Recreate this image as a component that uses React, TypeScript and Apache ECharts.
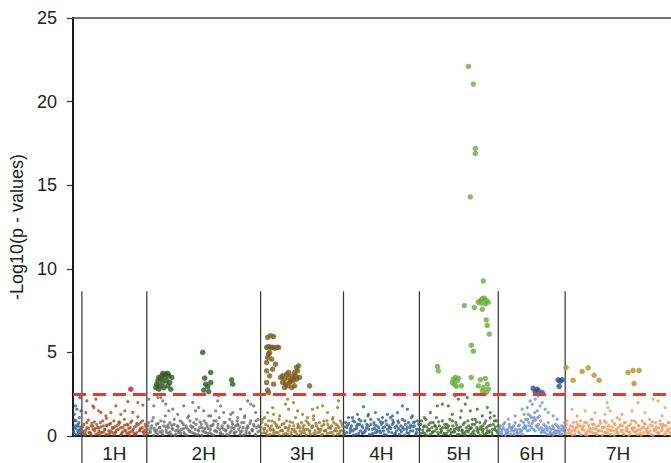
import React, { useEffect, useRef } from "react";
import * as echarts from "echarts";

const chromNames = ["1H", "2H", "3H", "4H", "5H", "6H", "7H"];
const chromBounds = [9, 74, 188, 271, 347, 426, 493, 599];
const yTicks = [0, 5, 10, 15, 20, 25];
const threshold = 2.5;
const separatorTop = 8.65;

const unPts = [[1,0.2],[2,0.6],[3,0.9],[1.5,1.3],[4,1.6],[2.5,1.8],[5,0.3],[6,0.8],[7,2.3],[3.5,0.1],[8,0.4],[6.5,1.1],[4.5,0.6],[7.5,0.2],[2,0.95],[8,1.5],[5.5,0.15],[1,0.5],[0.5,0.3],[3,0.45],[5,0.7],[7,0.55],[8.5,0.1],[6,0.35]];

const h1Pts = [[9.5,0.3],[11,0.7],[12.5,0.1],[14,0.5],[15.5,0.95],[17,0.2],[18.5,0.6],[20,0.4],[21.5,0.85],[23,0.1],[24.5,0.5],[26,0.3],[27.5,0.8],[29,0.2],[30.5,0.6],[32,0.4],[33.5,1.05],[35,0.1],[36.5,0.7],[38,0.3],[39.5,0.5],[41,0.9],[42.5,0.2],[44,0.6],[45.5,0.4],[47,0.8],[48.5,0.1],[50,0.5],[51.5,1.0],[53,0.3],[54.5,0.7],[56,0.2],[57.5,0.5],[59,0.9],[60.5,0.4],[62,0.1],[63.5,0.6],[65,1.15],[66.5,0.3],[68,0.8],[69.5,0.5],[71,0.2],[72.5,0.7],
[10,0.15],[13,0.35],[16,0.2],[19,0.75],[22,0.45],[25,0.15],[28,0.55],[31,0.25],[34,0.65],[37,0.15],[40,0.45],[43,0.25],[46,0.85],[49,0.15],[52,0.35],[55,0.65],[58,0.25],[61,0.15],[64,0.75],[67,0.35],[70,0.25],[73,0.55],[11.5,0.05],[26.5,0.05],[41.5,0.05],[56.5,0.05],[71.5,0.05],[18,0.05],[33,0.08],[48,0.06],[63,0.08],
[9.8,0.55],[11.8,0.25],[13.8,0.8],[15.8,0.45],[17.8,0.15],[19.8,0.6],[21.8,0.3],[23.8,0.7],[25.8,0.5],[27.8,0.2],[29.8,0.9],[31.8,0.4],[33.8,0.6],[35.8,0.3],[37.8,0.75],[39.8,0.2],[41.8,0.55],[43.8,0.35],[45.8,0.7],[47.8,0.5],[49.8,0.25],[51.8,0.65],[53.8,0.15],[55.8,0.45],[57.8,0.8],[59.8,0.3],[61.8,0.55],[63.8,0.2],[65.8,0.7],[67.8,0.45],[69.8,0.9],[71.8,0.35],[73.5,0.2],
[14,2.1],[23,2.2],[20,1.8],[21,1.7],[28,1.4],[43,1.8],[55,2.05],[65,2.0],[70,1.85],[60,1.4],[13,1.4],[38,1.4],[48,1.3],[33,1.2],[26,1.5],[52,1.5]];

const h2Pts = [[74.5,0.4],[76,0.8],[77.5,0.2],[79,0.6],[80.5,1.1],[82,0.3],[83.5,0.7],[85,0.1],[86.5,0.5],[88,0.9],[89.5,0.3],[91,0.6],[92.5,1.2],[94,0.2],[95.5,0.5],[97,0.8],[98.5,0.1],[100,0.4],[101.5,1.0],[103,0.3],[104.5,0.6],[106,0.2],[107.5,0.9],[109,0.4],[110.5,0.7],[112,0.1],[113.5,0.5],[115,1.1],[116.5,0.3],[118,0.6],[119.5,0.2],[121,0.8],[122.5,0.4],[124,1.0],[125.5,0.1],[127,0.5],[128.5,0.7],[130,0.3],[131.5,0.9],[133,0.2],[134.5,0.6],[136,1.2],[137.5,0.4],[139,0.1],[140.5,0.7],[142,0.3],[143.5,0.9],[145,0.5],[146.5,1.1],[148,0.2],[149.5,0.6],[151,0.4],[152.5,0.8],[154,0.1],[155.5,0.5],[157,1.0],[158.5,0.3],[160,0.7],[161.5,0.2],[163,0.6],[164.5,0.9],[166,0.4],[167.5,0.1],[169,0.8],[170.5,0.5],[172,1.1],[173.5,0.3],[175,0.6],[176.5,0.2],[178,0.9],[179.5,0.4],[181,0.7],[182.5,0.1],[184,0.5],[185.5,1.0],[187,0.3],
[75,0.15],[78,0.45],[81,0.05],[84,0.35],[87,0.25],[90,0.05],[93,0.55],[96,0.15],[99,0.65],[102,0.05],[105,0.35],[108,0.15],[111,0.45],[114,0.05],[117,0.25],[120,0.55],[123,0.1],[126,0.3],[129,0.05],[132,0.45],[135,0.15],[138,0.6],[141,0.05],[144,0.25],[147,0.4],[150,0.1],[153,0.3],[156,0.05],[159,0.5],[162,0.15],[165,0.65],[168,0.25],[171,0.05],[174,0.45],[177,0.15],[180,0.3],[183,0.05],[186,0.6],
[75.3,0.6],[77.3,0.3],[79.3,0.9],[81.3,0.45],[83.3,0.2],[85.3,0.75],[87.3,0.5],[89.3,0.15],[91.3,0.85],[93.3,0.35],[95.3,0.65],[97.3,0.25],[99.3,0.45],[101.3,0.7],[103.3,0.1],[105.3,0.55],[107.3,0.3],[109.3,0.8],[111.3,0.2],[113.3,0.6],[115.3,0.4],[117.3,0.9],[119.3,0.5],[121.3,0.15],[123.3,0.7],[125.3,0.35],[127.3,0.85],[129.3,0.5],[131.3,0.25],[133.3,0.75],[135.3,0.45],[137.3,0.2],[139.3,0.6],[141.3,0.9],[143.3,0.3],[145.3,0.7],[147.3,0.15],[149.3,0.5],[151.3,0.8],[153.3,0.35],[155.3,0.6],[157.3,0.2],[159.3,0.85],[161.3,0.45],[163.3,0.25],[165.3,0.7],[167.3,0.55],[169.3,0.3],[171.3,0.8],[173.3,0.15],[175.3,0.5],[177.3,0.75],[179.3,0.35],[181.3,0.6],[183.3,0.9],[185.3,0.25],[187.3,0.55],
[76,2.2],[88,2.3],[90,2.1],[81,1.8],[100,1.6],[111,1.8],[116,1.2],[126,1.7],[123,1.5],[146,2.4],[145,2.1],[148,1.8],[143,1.5],[151,1.4],[160,1.4],[168,1.6],[175,2.1],[181,1.8],[183,1.4],[165,1.1],[85,2.3],[96,1.5],[120,2.0],[131,1.5],[158,1.3],[178,1.9],[105,1.3],[138,1.2],[93,1.9],[172,1.2]];

const h3Pts = [[188.5,0.5],[190,1.0],[191.5,0.2],[193,0.7],[194.5,0.3],[196,0.9],[197.5,0.1],[199,0.6],[200.5,0.4],[202,0.8],[203.5,0.2],[205,0.5],[206.5,1.0],[208,0.3],[209.5,0.7],[211,0.1],[212.5,0.5],[214,0.9],[215.5,0.3],[217,0.6],[218.5,0.2],[220,0.8],[221.5,0.4],[223,1.1],[224.5,0.1],[226,0.6],[227.5,0.3],[229,0.8],[230.5,0.5],[232,0.2],[233.5,0.9],[235,0.4],[236.5,0.7],[238,0.1],[239.5,0.5],[241,1.0],[242.5,0.3],[244,0.6],[245.5,0.2],[247,0.8],[248.5,0.4],[250,0.1],[251.5,0.7],[253,0.3],[254.5,0.9],[256,0.5],[257.5,0.2],[259,0.6],[260.5,1.1],[262,0.3],[263.5,0.7],[265,0.1],[266.5,0.5],[268,0.9],[269.5,0.3],
[189,0.15],[192,0.45],[195,0.05],[198,0.35],[201,0.15],[204,0.6],[207,0.05],[210,0.3],[213,0.15],[216,0.45],[219,0.05],[222,0.25],[225,0.5],[228,0.1],[231,0.35],[234,0.05],[237,0.25],[240,0.6],[243,0.1],[246,0.4],[249,0.05],[252,0.3],[255,0.15],[258,0.45],[261,0.05],[264,0.3],[267,0.15],[270,0.6],
[189.3,0.8],[191.3,0.4],[193.3,0.15],[195.3,0.6],[197.3,0.45],[199.3,0.9],[201.3,0.3],[203.3,0.7],[205.3,0.2],[207.3,0.55],[209.3,0.35],[211.3,0.75],[213.3,0.5],[215.3,0.1],[217.3,0.85],[219.3,0.4],[221.3,0.6],[223.3,0.25],[225.3,0.7],[227.3,0.5],[229.3,0.2],[231.3,0.65],[233.3,0.4],[235.3,0.8],[237.3,0.3],[239.3,0.55],[241.3,0.15],[243.3,0.75],[245.3,0.45],[247.3,0.25],[249.3,0.6],[251.3,0.9],[253.3,0.35],[255.3,0.7],[257.3,0.5],[259.3,0.2],[261.3,0.8],[263.3,0.45],[265.3,0.6],[267.3,0.3],[269.3,0.75],[270.7,0.1],
[215,2.2],[213,1.9],[216,1.6],[221,2.0],[225,1.5],[200,1.7],[201,1.3],[195,1.4],[240,1.6],[245,1.7],[250,1.8],[241,1.2],[265,1.7],[266,2.1],[192,1.1],[207,1.2],[230,1.3],[255,1.4],[260,1.0],[235,1.1]];

const h4Pts = [[271.5,0.3],[273,0.8],[274.5,0.5],[276,1.1],[277.5,0.2],[279,0.6],[280.5,0.9],[282,0.4],[283.5,0.1],[285,0.7],[286.5,1.0],[288,0.3],[289.5,0.6],[291,0.2],[292.5,0.9],[294,0.5],[295.5,1.2],[297,0.1],[298.5,0.7],[300,0.4],[301.5,0.8],[303,0.2],[304.5,0.6],[306,1.0],[307.5,0.3],[309,0.7],[310.5,0.5],[312,0.1],[313.5,0.9],[315,0.4],[316.5,0.6],[318,1.1],[319.5,0.2],[321,0.8],[322.5,0.5],[324,0.3],[325.5,0.9],[327,0.1],[328.5,0.6],[330,1.0],[331.5,0.4],[333,0.7],[334.5,0.2],[336,0.8],[337.5,0.5],[339,1.1],[340.5,0.3],[342,0.6],[343.5,0.1],[345,0.9],[346.5,0.4],
[272,0.15],[275,0.65],[278,0.35],[281,0.05],[284,0.45],[287,0.7],[290,0.15],[293,0.35],[296,0.6],[299,0.05],[302,0.45],[305,0.25],[308,0.85],[311,0.3],[314,0.05],[317,0.5],[320,0.7],[323,0.15],[326,0.45],[329,0.25],[332,0.05],[335,0.55],[338,0.3],[341,0.8],[344,0.2],
[272.3,0.55],[274.3,0.2],[276.3,0.75],[278.3,0.45],[280.3,0.3],[282.3,0.85],[284.3,0.6],[286.3,0.15],[288.3,0.9],[290.3,0.5],[292.3,0.25],[294.3,0.7],[296.3,0.4],[298.3,1.0],[300.3,0.15],[302.3,0.65],[304.3,0.35],[306.3,0.5],[308.3,0.2],[310.3,0.8],[312.3,0.55],[314.3,0.7],[316.3,0.25],[318.3,0.45],[320.3,0.95],[322.3,0.1],[324.3,0.6],[326.3,0.8],[328.3,0.35],[330.3,0.5],[332.3,0.9],[334.3,0.4],[336.3,0.15],[338.3,0.65],[340.3,0.55],[342.3,0.85],[344.3,0.4],[346.3,0.7],
[291,1.75],[330,1.8],[335,1.6],[303,1.4],[315,1.3],[296,1.3],[320,1.2],[340,1.2],[280,1.1],[310,1.1],[325,1.4],[285,1.3]];

const h5Pts = [[347.5,0.4],[349,0.9],[350.5,0.2],[352,0.6],[353.5,1.0],[355,0.3],[356.5,0.7],[358,0.1],[359.5,0.5],[361,0.8],[362.5,0.3],[364,1.1],[365.5,0.2],[367,0.6],[368.5,0.4],[370,0.9],[371.5,0.1],[373,0.5],[374.5,0.7],[376,0.3],[377.5,1.0],[379,0.2],[380.5,0.6],[382,0.4],[383.5,0.8],[385,0.1],[386.5,0.5],[388,1.1],[389.5,0.3],[391,0.7],[392.5,0.2],[394,0.5],[395.5,0.9],[397,0.4],[398.5,0.1],[400,0.7],[401.5,0.3],[403,1.0],[404.5,0.5],[406,0.2],[407.5,0.8],[409,0.4],[410.5,0.6],[412,0.1],[413.5,0.9],[415,0.3],[416.5,0.6],[418,1.1],[419.5,0.2],[421,0.7],[422.5,0.4],[424,0.9],[425.5,0.2],
[348,0.15],[351,0.55],[354,0.05],[357,0.35],[360,0.2],[363,0.6],[366,0.05],[369,0.3],[372,0.15],[375,0.5],[378,0.05],[381,0.25],[384,0.45],[387,0.1],[390,0.35],[393,0.05],[396,0.25],[399,0.5],[402,0.1],[405,0.3],[408,0.05],[411,0.4],[414,0.15],[417,0.3],[420,0.05],[423,0.55],
[348.3,0.7],[350.3,0.35],[352.3,0.15],[354.3,0.55],[356.3,0.4],[358.3,0.8],[360.3,0.25],[362.3,0.6],[364.3,0.45],[366.3,0.85],[368.3,0.2],[370.3,0.5],[372.3,0.7],[374.3,0.15],[376.3,0.6],[378.3,0.4],[380.3,0.9],[382.3,0.25],[384.3,0.65],[386.3,0.35],[388.3,0.55],[390.3,0.15],[392.3,0.8],[394.3,0.3],[396.3,0.6],[398.3,0.45],[400.3,0.2],[402.3,0.7],[404.3,0.85],[406.3,0.4],[408.3,0.55],[410.3,0.25],[412.3,0.75],[414.3,0.5],[416.3,0.2],[418.3,0.65],[420.3,0.4],[422.3,0.9],[424.3,0.3],[425.8,0.6],
[383,2.4],[386,2.2],[395,2.3],[393,1.9],[365,1.8],[370,1.9],[398,1.5],[405,1.6],[415,1.7],[418,1.4],[358,1.4],[376,1.8],[380,1.3],[410,1.2],[352,1.1],[389,1.5],[422,1.2],[400,1.0]];

const h6Pts = [[426.5,0.3],[428,0.6],[429.5,0.1],[431,0.5],[432.5,0.8],[434,0.2],[435.5,0.4],[437,0.7],[438.5,0.1],[440,0.5],[441.5,0.3],[443,0.8],[444.5,0.2],[446,0.6],[447.5,0.4],[449,0.9],[450.5,0.1],[452,0.6],[453.5,1.0],[455,0.3],[456.5,0.8],[458,1.2],[459.5,0.5],[461,0.9],[462.5,1.4],[464,0.6],[465.5,1.1],[467,0.4],[468.5,0.9],[470,0.3],[471.5,0.7],[473,0.2],[474.5,0.5],[476,0.8],[477.5,0.1],[479,0.4],[480.5,0.6],[482,0.2],[483.5,0.7],[485,0.3],[486.5,0.5],[488,0.1],[489.5,0.6],[491,0.3],[492.5,0.8],
[427,0.15],[430,0.4],[433,0.05],[436,0.25],[439,0.45],[442,0.1],[445,0.35],[448,0.2],[451,0.45],[454,0.6],[457,0.35],[460,0.75],[463,0.3],[466,0.7],[469,0.2],[472,0.4],[475,0.1],[478,0.25],[481,0.05],[484,0.15],[487,0.3],[490,0.1],[492,0.45],
[427.3,0.45],[429.3,0.25],[431.3,0.7],[433.3,0.35],[435.3,0.15],[437.3,0.55],[439.3,0.3],[441.3,0.6],[443.3,0.4],[445.3,0.15],[447.3,0.65],[449.3,0.3],[451.3,0.8],[453.3,0.45],[455.3,1.0],[457.3,0.6],[459.3,1.1],[461.3,0.4],[463.3,0.95],[465.3,0.55],[467.3,1.2],[469.3,0.5],[471.3,0.25],[473.3,0.6],[475.3,0.35],[477.3,0.5],[479.3,0.15],[481.3,0.45],[483.3,0.3],[485.3,0.6],[487.3,0.2],[489.3,0.4],[491.3,0.55],[492.8,0.2],
[466,2.4],[463,2.2],[460,1.9],[455,1.7],[450,1.6],[470,2.0],[473,1.6],[476,1.4],[456,1.3],[481,1.2],[465,1.5],[443,1.2],[436,1.0],[485,1.0],[468,1.8],[458,2.1],[462,1.1],[452,1.3]];

const h7Pts = [[493.5,0.5],[495,0.9],[496.5,0.2],[498,0.6],[499.5,0.3],[501,0.8],[502.5,0.1],[504,0.5],[505.5,0.7],[507,0.2],[508.5,0.9],[510,0.4],[511.5,0.6],[513,0.1],[514.5,0.8],[516,0.3],[517.5,0.5],[519,1.0],[520.5,0.2],[522,0.7],[523.5,0.4],[525,0.1],[526.5,0.6],[528,0.9],[529.5,0.3],[531,0.5],[532.5,0.2],[534,0.8],[535.5,0.4],[537,0.6],[538.5,0.1],[540,0.9],[541.5,0.3],[543,0.7],[544.5,0.2],[546,0.5],[547.5,1.0],[549,0.3],[550.5,0.6],[552,0.1],[553.5,0.8],[555,0.4],[556.5,0.6],[558,0.2],[559.5,0.9],[561,0.3],[562.5,0.5],[564,0.8],[565.5,0.1],[567,0.6],[568.5,0.4],[570,0.9],[571.5,0.2],[573,0.7],[574.5,0.3],[576,0.5],[577.5,1.0],[579,0.1],[580.5,0.6],[582,0.4],[583.5,0.8],[585,0.2],[586.5,0.5],[588,0.9],[589.5,0.3],[591,0.7],[592.5,0.1],[594,0.6],[595.5,0.4],[597,0.8],[598.5,0.2],
[494,0.15],[497,0.4],[500,0.05],[503,0.3],[506,0.55],[509,0.1],[512,0.35],[515,0.05],[518,0.25],[521,0.45],[524,0.15],[527,0.3],[530,0.05],[533,0.55],[536,0.2],[539,0.35],[542,0.05],[545,0.25],[548,0.6],[551,0.15],[554,0.3],[557,0.05],[560,0.45],[563,0.2],[566,0.35],[569,0.05],[572,0.5],[575,0.15],[578,0.3],[581,0.05],[584,0.4],[587,0.2],[590,0.55],[593,0.1],[596,0.3],[599,0.05],
[494.3,0.7],[496.3,0.35],[498.3,0.15],[500.3,0.55],[502.3,0.4],[504.3,0.85],[506.3,0.25],[508.3,0.6],[510.3,0.45],[512.3,0.8],[514.3,0.2],[516.3,0.65],[518.3,0.4],[520.3,0.7],[522.3,0.15],[524.3,0.55],[526.3,0.3],[528.3,0.75],[530.3,0.5],[532.3,0.9],[534.3,0.2],[536.3,0.6],[538.3,0.35],[540.3,0.55],[542.3,0.75],[544.3,0.4],[546.3,0.15],[548.3,0.65],[550.3,0.35],[552.3,0.8],[554.3,0.5],[556.3,0.25],[558.3,0.7],[560.3,0.45],[562.3,0.9],[564.3,0.3],[566.3,0.6],[568.3,0.15],[570.3,0.5],[572.3,0.75],[574.3,0.4],[576.3,0.2],[578.3,0.65],[580.3,0.85],[582.3,0.3],[584.3,0.55],[586.3,0.15],[588.3,0.7],[590.3,0.4],[592.3,0.6],[594.3,0.25],[596.3,0.8],[598.3,0.45],
[535,2.0],[536,1.7],[538,1.5],[533,1.3],[566,2.0],[581,2.2],[586,2.1],[500,1.6],[513,1.5],[523,1.4],[560,1.5],[573,1.4],[593,1.7],[550,1.3],[505,1.2],[545,1.1],[520,1.0],[590,1.2]];

const sig1H = [[58,2.8]];
const sig2H = [[83,2.9],[84,3.1],[85,3.3],[86,2.8],[87,3.0],[88,3.4],[89,3.6],[90,3.2],[91,2.9],[92,3.5],[93,3.7],[94,3.3],[95,3.0],[96,3.6],[97,3.2],[98,2.8],[99,3.5],[86,3.5],[90,3.75],[95,3.75],[130,5.0],[132,3.46],[138,3.8],[133,3.1],[135,2.95],[138,3.2],[131,2.75],[136,2.65],[159,3.36],[160,3.1]];
const sig3H = [[195,5.9],[198,6.0],[201,5.95],[194,5.3],[196,5.35],[198,5.3],[200,5.3],[202,5.25],[204,5.3],[206,5.3],[197,5.0],[195,4.7],[194,4.4],[196,4.9],[199,4.6],[203,4.3],[194,3.9],[200,4.0],[197,3.6],[194,3.2],[195,2.75],[201,3.1],[196,2.6],
[208,3.5],[210,3.6],[212,3.4],[214,3.7],[216,3.5],[218,3.3],[220,3.6],[222,3.8],[224,4.1],[226,4.2],[225,3.9],[213,3.1],[215,3.0],[217,3.2],[219,2.9],[221,3.4],[223,3.6],[227,3.5],[210,3.2],[212,2.9],[216,3.8],[220,3.3],[237,3.0],[222,3.0],[224,3.4]];
const sig5H = [[396,22.1],[401,21.05],[403,17.2],[403,16.9],[398,14.3],[411,9.27],[392,7.8],[402,7.68],[410,7.58],[406,8.0],[408,8.1],[410,8.2],[412,8.25],[414,8.1],[416,8.0],[409,7.95],[413,7.9],[414,6.94],[415,6.62],[417,6.1],[399,5.43],[401,5.07],[365,4.16],[366,3.9],[383,3.5],[381,3.4],[385,3.3],[382,3.1],[384,2.97],[389,3.0],[399,3.5],[408,3.36],[413,3.44],[406,3.0],[411,2.9],[415,3.1],[416,2.8],[410,2.7],[414,2.6],[386,3.45],[380,3.2]];
const sig6H = [[461,2.85],[465,2.8],[463,2.64],[466,2.7],[470,2.6],[486,3.36],[490,3.36],[488,3.28],[487,2.97]];
const sig7H = [[494,4.1],[501,3.34],[510,3.86],[516,4.08],[522,3.64],[527,3.34],[556,3.8],[561,3.92],[567,3.92],[562,3.14]];

const smallColors = ["#2b5c9a", "#a84b1e", "#6e6e6e", "#977728", "#2c5f97", "#3c6a2a", "#6f8fcf", "#f29a5c"];
const sigColors = ["#c41e2e", "#2f5a1f", "#7b5b1b", "#6cac3e", "#23508f", "#b88e28"];

const FONT = '"Liberation Sans", Arial, Helvetica, sans-serif';

export default function App() {
  const ref = useRef<HTMLDivElement>(null);
  useEffect(() => {
    if (!ref.current) return;
    const chart = echarts.init(ref.current, null, { renderer: "svg" });
    const smallSets = [unPts, h1Pts, h2Pts, h3Pts, h4Pts, h5Pts, h6Pts, h7Pts];
    const sigSets = [sig1H, sig2H, sig3H, sig5H, sig6H, sig7H];
    const mids = chromNames.map((_, i) => (chromBounds[i] + chromBounds[i + 1]) / 2);
    const xMax = chromBounds[chromBounds.length - 1];

    const series: any[] = [];
    series.push({
      type: "custom",
      silent: true,
      clip: false,
      z: 1,
      encode: { x: 0, y: 1 },
      data: chromBounds.slice(0, -1).map((b) => [b, separatorTop]),
      renderItem: (params: any, api: any) => {
        const top = api.coord([api.value(0), api.value(1)]);
        const base = api.coord([api.value(0), 0]);
        return {
          type: "line",
          shape: { x1: top[0], y1: top[1], x2: base[0], y2: base[1] + 28 },
          style: { stroke: "#333", lineWidth: 1.2 },
        };
      },
    });
    smallSets.forEach((pts, i) => {
      series.push({
        type: "scatter",
        silent: true,
        z: 2,
        symbol: "circle",
        symbolSize: 3.2,
        itemStyle: { color: smallColors[i] },
        data: pts,
      });
    });
    series.push({
      type: "scatter",
      silent: true,
      z: 3,
      data: [],
      markLine: {
        silent: true,
        symbol: ["none", "none"],
        label: { show: false },
        lineStyle: { color: "#e8392d", width: 3, type: [13, 7] },
        data: [{ yAxis: threshold }],
      },
    });
    sigSets.forEach((pts, i) => {
      series.push({
        type: "scatter",
        silent: true,
        z: 4,
        symbol: "circle",
        symbolSize: 5.5,
        itemStyle: { color: sigColors[i] },
        data: pts,
      });
    });

    chart.setOption({
      animation: false,
      backgroundColor: "#ffffff",
      grid: { left: 72, right: 0, top: 18, bottom: 26, containLabel: false },
      xAxis: [
        {
          type: "value",
          min: 0,
          max: xMax,
          axisLine: { show: true, lineStyle: { color: "#1a1a1a", width: 2 } },
          axisTick: { show: false },
          splitLine: { show: false },
          axisLabel: {
            customValues: mids,
            margin: 8,
            fontSize: 19,
            color: "#222",
            fontFamily: FONT,
            formatter: (v: number) => {
              const i = mids.findIndex((m) => Math.abs(m - v) < 0.01);
              return i >= 0 ? chromNames[i] : "";
            },
          },
        },
        {
          type: "value",
          position: "top",
          min: 0,
          max: xMax,
          axisLine: { show: true, onZero: false, lineStyle: { color: "#444", width: 1.5 } },
          axisTick: { show: false },
          axisLabel: { show: false },
          splitLine: { show: false },
        },
      ],
      yAxis: {
        type: "value",
        min: yTicks[0],
        max: yTicks[yTicks.length - 1],
        interval: 5,
        name: "-Log10(p - values)",
        nameLocation: "middle",
        nameGap: 45,
        nameTextStyle: { fontSize: 18, color: "#222", fontFamily: FONT },
        axisLine: { show: true, lineStyle: { color: "#1a1a1a", width: 2 } },
        axisTick: { show: true, length: 6, lineStyle: { color: "#333", width: 1.2 } },
        splitLine: { show: false },
        axisLabel: { fontSize: 18, color: "#222", fontFamily: FONT, margin: 16 },
      },
      series,
    });
    return () => chart.dispose();
  }, []);
  return (
    <div
      ref={ref}
      style={{ position: "fixed", left: 0, top: 0, width: 671, height: 463, background: "#fff" }}
    />
  );
}
